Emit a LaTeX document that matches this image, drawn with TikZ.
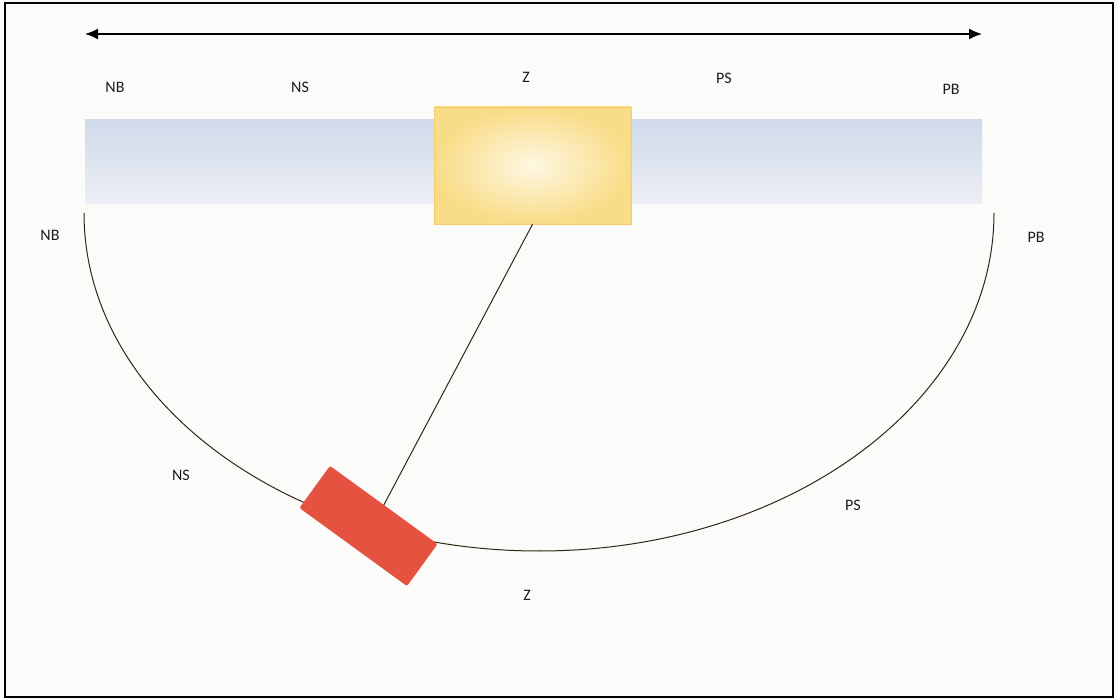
\documentclass[tikz,border=0pt]{standalone}
\usepackage{fontspec}
\setmainfont{Carlito}
\usetikzlibrary{arrows.meta}
\definecolor{lbl}{RGB}{30,26,26}
\definecolor{barTop}{RGB}{208,218,234}
\definecolor{barBot}{RGB}{236,239,244}
\definecolor{yelIn}{RGB}{254,248,226}
\definecolor{yelOut}{RGB}{249,220,135}
\definecolor{yelEdge}{RGB}{244,205,105}
\definecolor{redFill}{RGB}{230,82,64}
\definecolor{curve}{RGB}{50,36,22}
\definecolor{paper}{RGB}{251,251,249}
\begin{document}
\begin{tikzpicture}[x=1pt,y=1pt,
  lab/.style={text=lbl,font=\fontsize{16}{16}\selectfont,inner sep=0pt},
  bar/.style={draw=none,top color=barTop,bottom color=barBot,minimum width=897pt,minimum height=84pt,inner sep=0pt},
  yelbox/.style={draw=yelEdge,line width=0.6pt,inner color=yelIn,outer color=yelOut,minimum width=197pt,minimum height=117pt,inner sep=0pt},
  redbox/.style={fill=redFill,draw=none,rounded corners=2pt,minimum width=133pt,minimum height=52pt,inner sep=0pt,rotate=-36},
  wire/.style={draw=curve,line width=1pt}]
\useasboundingbox (0,0) rectangle (1118,699);
\fill[paper] (0,0) rectangle (1118,699);
\draw[line width=2pt,black] (5,2) rectangle (1113,696);
% range arrow
\coordinate (aL) at (85,665);
\coordinate (aR) at (982,665);
\draw[line width=1.6pt,{Latex[length=13pt,width=11pt]}-{Latex[length=13pt,width=11pt]}] (aL) -- (aR);
% top labels
\node[lab] (tNB) at (115,611.5) {NB};
\node[lab] (tNS) at (300,611.5) {NS};
\node[lab] (tZ)  at (526,622) {Z};
\node[lab] (tPS) at (724,621) {PS};
\node[lab] (tPB) at (951,610) {PB};
% bar and slider
\node[bar] (bar) at (533.5,537) {};
\node[yelbox] (yel) at (532.5,533.5) {};
% arc
\coordinate (arcL) at (84,486);
\coordinate (arcR) at (994,486);
\draw[wire] (arcL) arc[start angle=180,end angle=360,x radius=455pt,y radius=338pt];
% bob
\node[redbox] (red) at (368.5,173) {};
\draw[wire] (yel.south) -- (red.north);
% lower labels
\node[lab] (lNB) at (50,464) {NB};
\node[lab] (lPB) at (1036,462) {PB};
\node[lab] (lNS) at (181,224) {NS};
\node[lab] (lPS) at (853,194) {PS};
\node[lab] (lZ)  at (527,104) {Z};
\end{tikzpicture}
\end{document}
